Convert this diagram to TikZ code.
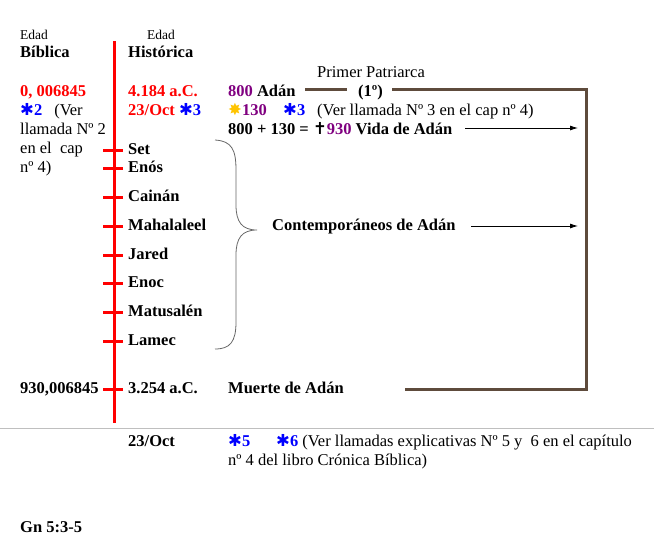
\documentclass[tikz,border=0pt]{standalone}
\usepackage{fontspec}
\setmainfont{Liberation Serif}
\newfontfamily\simbolos{DejaVu Sans}
\usepackage{tikz}
\usetikzlibrary{calc,arrows.meta}
\definecolor{rojo}{RGB}{255,0,0}
\definecolor{morado}{RGB}{128,0,128}
\definecolor{azul}{RGB}{0,0,255}
\definecolor{oro}{RGB}{255,196,0}
\definecolor{cafe}{RGB}{94,75,60}
\tikzstyle{txt}=[anchor=base west, inner sep=0pt, font=\fontsize{16.5}{19}\selectfont]
\tikzstyle{txtb}=[txt, font=\fontsize{16.5}{19}\selectfont\bfseries]
\tikzstyle{chico}=[anchor=base west, inner sep=0pt, font=\fontsize{13.5}{16}\selectfont]
\tikzstyle{rayita}=[rojo, line width=3pt]
\tikzstyle{marco}=[cafe, line width=3pt]
\tikzstyle{flecha}=[black, line width=0.8pt, -{Latex[length=8pt,width=5pt]}]
\newcommand{\llamada}[1]{{\color{#1}\simbolos\mdseries ✱}}
\newcommand{\solcito}{{\color{oro}\simbolos\mdseries ✸}}
\newcommand{\cruz}{{\simbolos\mdseries ✝}}

\begin{document}
\begin{tikzpicture}[x=1pt,y=-1pt]
\useasboundingbox (0,0) rectangle (654,541);
\coordinate (ejearriba) at (114,41);
\coordinate (ejeabajo) at (114,423);
\draw[rojo, line width=3pt] (ejearriba) -- (ejeabajo);
% encabezados
\node[chico] (edad1) at (20,39) {Edad};
\node[chico] (edad2) at (147,39) {Edad};
\node[txtb] (biblica) at (20,57) {Bíblica};
\node[txtb] (historica) at (128,57) {Histórica};
% Adan
\node[txt] (patriarca) at (317,77) {Primer Patriarca};
\node[txtb, rojo] (b0) at (20,96) {0, 006845};
\node[txtb, rojo] (h0) at (128,96) {4.184 a.C.};
\node[txtb] (adan) at (228,96) {\textcolor{morado}{800} Adán};
\node[txtb] (uno) at (358,96) {(1º)};
\node[txt] (nota2) at (20,115) {\textbf{\llamada{azul}\textcolor{azul}{2}}\hspace{12pt}(Ver};
\node[txt] (nota2b) at (20,134) {llamada Nº 2};
\node[txt] (nota2c) at (20,153) {en el\ \ cap};
\node[txt] (nota2d) at (20,172) {nº 4)};
\node[txtb, rojo] (oct) at (128,115) {23/Oct \llamada{azul}\textcolor{azul}{3}};
\node[txtb] (c130) at (228,115) {\solcito\textcolor{morado}{130}};
\node[txtb] (n3) at (283,115) {\llamada{azul}\textcolor{azul}{3}};
\node[txt] (ver3) at (317,115) {(Ver llamada Nº 3 en el cap nº 4)};
\node[txtb] (vida) at (228,134) {800 + 130 = \cruz\textcolor{morado}{930} Vida de Adán};
% contemporaneos
\node[txtb] (set) at (128,154) {Set};
\node[txtb] (enos) at (128,172) {Enós};
\node[txtb] (cainan) at (128,201) {Cainán};
\node[txtb] (mahalaleel) at (128,230) {Mahalaleel};
\node[txtb] (jared) at (128,259) {Jared};
\node[txtb] (enoc) at (128,287) {Enoc};
\node[txtb] (matusalen) at (128,316) {Matusalén};
\node[txtb] (lamec) at (128,345) {Lamec};
\foreach \n in {set,enos,cainan,mahalaleel,jared,enoc,matusalen,lamec}
  \draw[rayita] ($(\n.base west)+(-25,-4)$) -- +(20,0);
\node[txtb] (contemp) at (272,230) {Contemporáneos de Adán};
\draw[gray!80!black, line width=0.8pt] (215,140) .. controls (232,141) and (236,150) .. (236,170)
  -- (236,205) .. controls (236,222) and (242,230) .. (257,230)
  .. controls (242,230) and (236,238) .. (236,255)
  -- (236,322) .. controls (236,342) and (230,349) .. (215,349);
% muerte
\node[txtb] (b930) at (20,393) {930,006845};
\node[txtb] (h3254) at (128,393) {3.254 a.C.};
\node[txtb] (muerte) at (228,393) {Muerte de Adán};
\draw[rayita] ($(h3254.base west)+(-25,-4)$) -- +(20,0);
% marco de la vida de Adan
\coordinate (m1) at (305,89);
\coordinate (m2) at (347,89);
\coordinate (m3) at (392,89);
\coordinate (m4) at (586,89);
\coordinate (m5) at (586,389);
\coordinate (m6) at (405,389);
\draw[marco] (m1) -- (m2);
\draw[marco] (m3) -- (m4) -- (m5) -- (m6);
\coordinate (p1) at (578,128);
\coordinate (p2) at (578,226);
\draw[flecha] (465,128) -- (p1);
\draw[flecha] (471,226) -- (p2);
% notas al pie
\draw[gray!50, line width=0.8pt] (0,428) -- (654,428);
\node[txtb] (oct2) at (128,446) {23/Oct};
\node[txtb] (n5) at (228,446) {\llamada{azul}\textcolor{azul}{5}};
\node[txt] (n6) at (276,446) {\textbf{\llamada{azul}\textcolor{azul}{6}} (Ver llamadas explicativas Nº 5 y\ \ 6 en el capítulo};
\node[txt] (n6b) at (228,465) {nº 4 del libro Crónica Bíblica)};
\node[txtb] (gn) at (20,532) {Gn 5:3-5};
\end{tikzpicture}
\end{document}
